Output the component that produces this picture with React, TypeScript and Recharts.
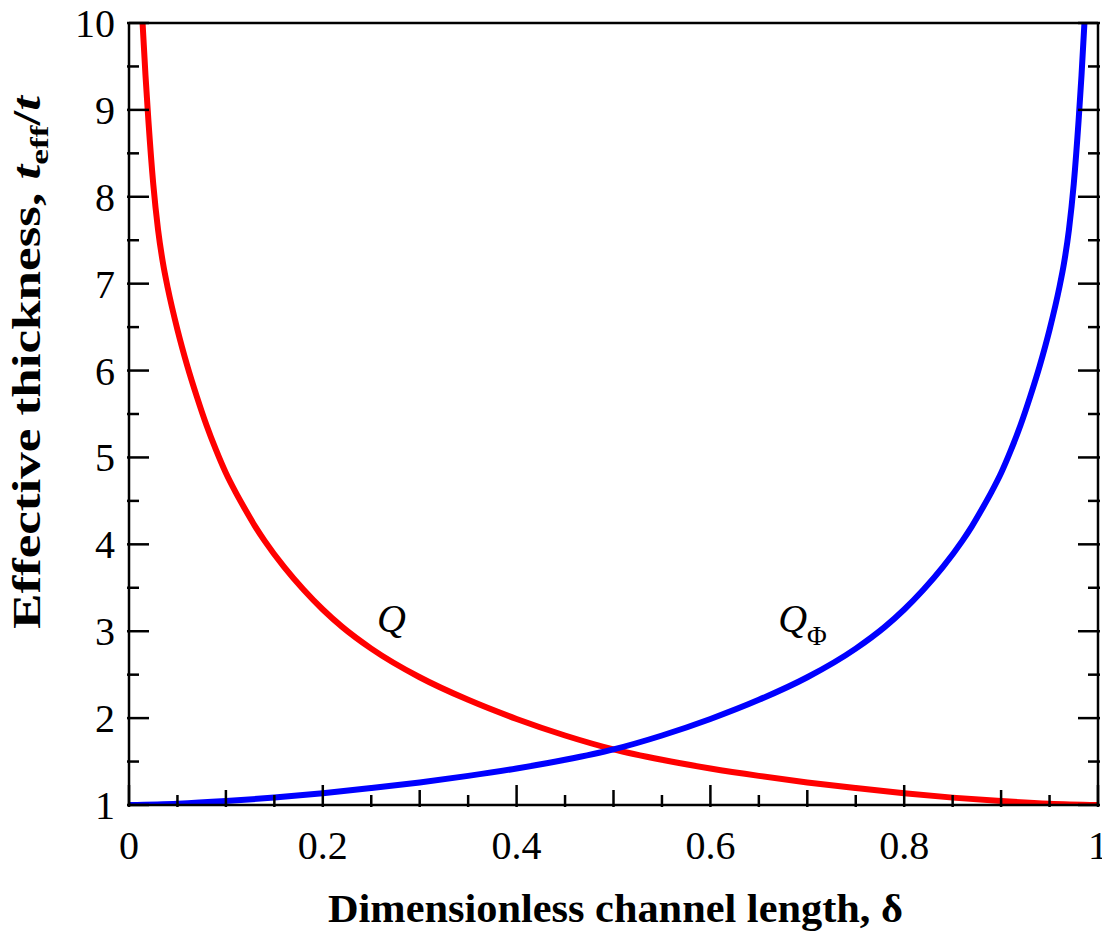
import { LineChart, Line, XAxis, YAxis, ReferenceDot, Customized } from "recharts";

// Q curve (red)
const qDelta = [0.014, 0.017, 0.02, 0.025, 0.03, 0.035, 0.04, 0.05, 0.06, 0.07, 0.08, 0.09, 0.1, 0.11, 0.12, 0.13, 0.14, 0.16, 0.18, 0.2, 0.22, 0.25, 0.3, 0.35, 0.4, 0.45, 0.5, 0.55, 0.6, 0.65, 0.7, 0.75, 0.8, 0.85, 0.9, 0.95, 1.0];
const qValues = [10, 9.4, 8.88, 8.15, 7.62, 7.24, 6.95, 6.47, 6.06, 5.7, 5.37, 5.08, 4.82, 4.6, 4.4, 4.21, 4.04, 3.74, 3.48, 3.25, 3.05, 2.8, 2.47, 2.21, 1.99, 1.8, 1.64, 1.52, 1.42, 1.335, 1.26, 1.195, 1.135, 1.085, 1.045, 1.015, 1.0];

// Q_Phi curve (blue)
const qPhiDelta = [0, 0.05, 0.1, 0.15, 0.2, 0.25, 0.3, 0.35, 0.4, 0.45, 0.5, 0.55, 0.6, 0.65, 0.7, 0.75, 0.78, 0.8, 0.82, 0.84, 0.86, 0.87, 0.88, 0.89, 0.9, 0.91, 0.92, 0.93, 0.94, 0.95, 0.96, 0.965, 0.97, 0.975, 0.98, 0.983, 0.986];
const qPhiValues = [1.0, 1.015, 1.045, 1.085, 1.135, 1.195, 1.26, 1.335, 1.42, 1.52, 1.64, 1.8, 1.99, 2.21, 2.47, 2.8, 3.05, 3.25, 3.48, 3.74, 4.04, 4.21, 4.4, 4.6, 4.82, 5.08, 5.37, 5.7, 6.06, 6.47, 6.95, 7.24, 7.62, 8.15, 8.88, 9.4, 10];

const xTicks = [0, 0.05, 0.1, 0.15, 0.2, 0.25, 0.3, 0.35, 0.4, 0.45, 0.5, 0.55, 0.6, 0.65, 0.7, 0.75, 0.8, 0.85, 0.9, 0.95, 1];
const yTicks = [1, 1.5, 2, 2.5, 3, 3.5, 4, 4.5, 5, 5.5, 6, 6.5, 7, 7.5, 8, 8.5, 9, 9.5, 10];

const qData = qDelta.map((d, i) => ({ d, v: qValues[i] }));
const qPhiData = qPhiDelta.map((d, i) => ({ d, v: qPhiValues[i] }));

const serif = "'Liberation Serif', 'Times New Roman', serif";
const ink = "#000";

const xLen = (v: number) => {
  const k = Math.round(v * 20);
  return k % 4 === 0 ? 22 : k % 2 === 0 ? 17 : 12;
};
const yLen = (v: number) => (Math.round(v * 2) % 2 === 0 ? 22 : 12);

const BottomTick = ({ x, y, payload }: any) => {
  const v = payload.value;
  const k = Math.round(v * 20);
  const label = k % 4 === 0 ? (v === 0 ? "0" : v === 1 ? "1" : v.toFixed(1)) : null;
  return (
    <g>
      <line x1={x} x2={x} y1={y} y2={y - xLen(v)} stroke={ink} strokeWidth={2.5} />
      {label && (
        <text x={x} y={y + 52} textAnchor="middle" fontFamily={serif} fontSize={40} fill={ink}>
          {label}
        </text>
      )}
    </g>
  );
};

const TopTick = ({ x, y, payload }: any) => (
  <line x1={x} x2={x} y1={y} y2={y + xLen(payload.value)} stroke={ink} strokeWidth={2.5} />
);

const LeftTick = ({ x, y, payload }: any) => {
  const v = payload.value;
  const isInt = Math.round(v * 2) % 2 === 0;
  return (
    <g>
      <line x1={x} x2={x + yLen(v)} y1={y} y2={y} stroke={ink} strokeWidth={2.5} />
      {isInt && (
        <text x={x - 12} y={y + 14} textAnchor="end" fontFamily={serif} fontSize={40} fill={ink}>
          {v}
        </text>
      )}
    </g>
  );
};

const RightTick = ({ x, y, payload }: any) => (
  <line x1={x} x2={x - yLen(payload.value)} y1={y} y2={y} stroke={ink} strokeWidth={2.5} />
);

const Titles = () => (
  <g fontFamily={serif} fontWeight="bold" fill={ink}>
    <text x={328} y={922} fontSize={39} textLength={575} lengthAdjust="spacingAndGlyphs">
      Dimensionless channel length, δ
    </text>
    <text transform="translate(40,629) rotate(-90)" fontSize={39} textLength={533} lengthAdjust="spacingAndGlyphs">
      Effective thickness, <tspan fontStyle="italic">t</tspan>
      <tspan fontSize={26} dy={8}>eff</tspan>
      <tspan dy={-8}>/</tspan>
      <tspan fontStyle="italic">t</tspan>
    </text>
  </g>
);

const QLabel = ({ cx, cy }: any) => (
  <text x={cx} y={cy} fontFamily={serif} fontStyle="italic" fontSize={40} fill={ink}>
    Q
  </text>
);

const QPhiLabel = ({ cx, cy }: any) => (
  <text x={cx} y={cy} fontFamily={serif} fill={ink}>
    <tspan fontStyle="italic" fontSize={40}>Q</tspan>
    <tspan fontSize={27} dy={13}>Φ</tspan>
  </text>
);

export default function App() {
  return (
    <div style={{ margin: "-8px 0 0 -8px" }}>
      <LineChart width={1110} height={935} margin={{ top: 0, right: 0, bottom: 0, left: 0 }}>
        <XAxis
          dataKey="d"
          type="number"
          domain={[0, 1]}
          allowDataOverflow
          ticks={xTicks}
          interval={0}
          height={130}
          tickSize={0}
          tickLine={false}
          axisLine={{ stroke: ink, strokeWidth: 2.5 }}
          tick={<BottomTick />}
        />
        <XAxis
          xAxisId="top"
          orientation="top"
          type="number"
          domain={[0, 1]}
          allowDataOverflow
          ticks={xTicks}
          interval={0}
          height={23}
          tickSize={0}
          tickLine={false}
          axisLine={{ stroke: ink, strokeWidth: 2.5 }}
          tick={<TopTick />}
        />
        <YAxis
          type="number"
          domain={[1, 10]}
          allowDataOverflow
          ticks={yTicks}
          interval={0}
          width={129}
          tickSize={0}
          tickLine={false}
          axisLine={{ stroke: ink, strokeWidth: 2.5 }}
          tick={<LeftTick />}
        />
        <YAxis
          yAxisId="right"
          orientation="right"
          type="number"
          domain={[1, 10]}
          allowDataOverflow
          ticks={yTicks}
          interval={0}
          width={12}
          tickSize={0}
          tickLine={false}
          axisLine={{ stroke: ink, strokeWidth: 2.5 }}
          tick={<RightTick />}
        />
        <Line
          data={qData}
          dataKey="v"
          type="monotone"
          stroke="#ff0000"
          strokeWidth={6}
          strokeLinecap="round"
          dot={false}
          activeDot={false}
          isAnimationActive={false}
        />
        <Line
          data={qPhiData}
          dataKey="v"
          type="monotone"
          stroke="#0000ff"
          strokeWidth={6}
          strokeLinecap="round"
          dot={false}
          activeDot={false}
          isAnimationActive={false}
        />
        <ReferenceDot x={0.256} y={2.99} r={0} shape={<QLabel />} />
        <ReferenceDot x={0.67} y={2.99} r={0} shape={<QPhiLabel />} />
        <Customized component={Titles} />
      </LineChart>
    </div>
  );
}
